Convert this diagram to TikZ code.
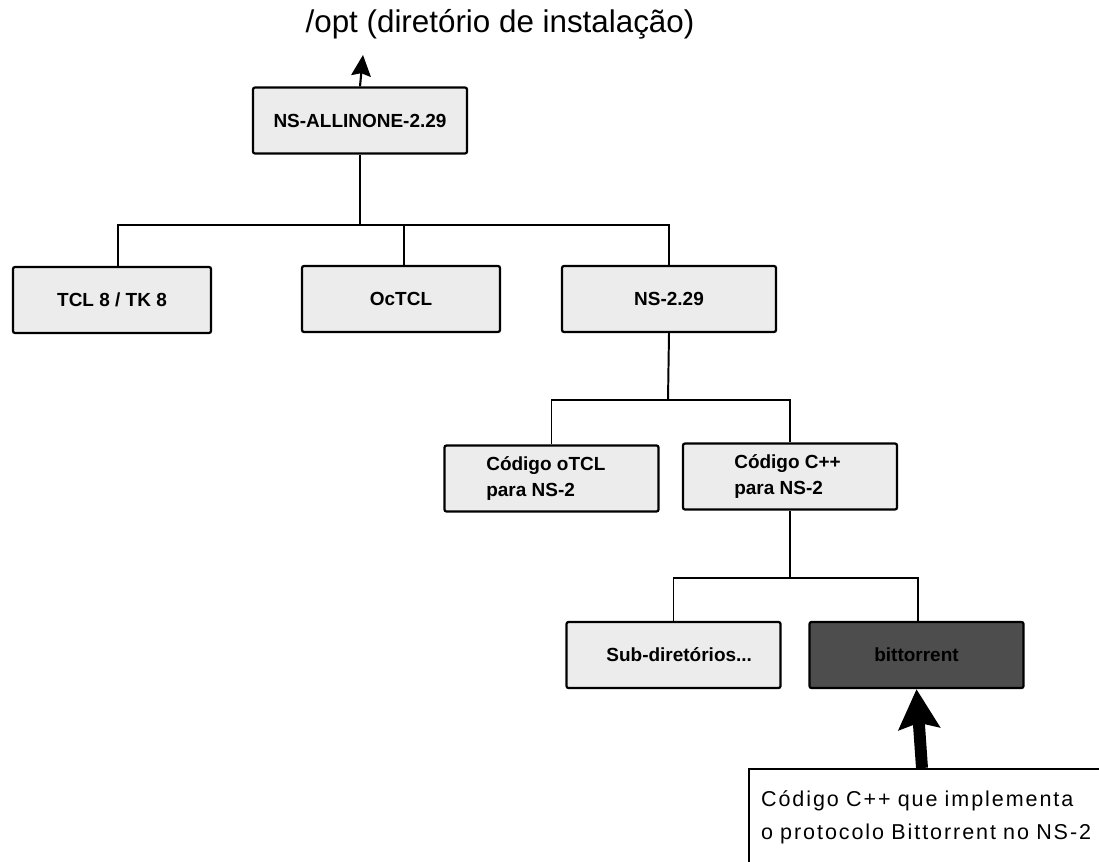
\documentclass[tikz,border=0pt]{standalone}
\usepackage{fontspec}
\setmainfont{Liberation Sans}
\usepackage{tikz}
\usetikzlibrary{arrows.meta,positioning}
\definecolor{boxgray}{HTML}{ECECEC}
\definecolor{darkbox}{HTML}{4D4D4D}

\begin{document}
\begin{tikzpicture}[x=0.025cm, y=-0.025cm,
    dirbox/.style={rectangle, draw=black, fill=boxgray, line width=1.6pt, rounded corners=1.5pt, minimum width=5.35cm, minimum height=1.65cm, inner sep=0pt, font=\fontsize{13.5}{19}\selectfont\bfseries},
    smallbox/.style={dirbox, minimum width=4.95cm},
    selbox/.style={dirbox, fill=darkbox},
    notebox/.style={rectangle, draw=black, fill=white, line width=1.5pt, anchor=north west, align=left, text width=8.6cm, inner xsep=0.3cm, inner ysep=0.55cm, font=\fontsize{15.3}{23.5}\selectfont\addfontfeatures{LetterSpace=9}},
    link/.style={draw=black, line width=1.4pt},
    uparrow/.style={line width=1.5pt, -{Stealth[length=15pt, width=14pt, inset=2pt]}},
    bigarrow/.style={line width=8.5pt, -{Stealth[length=28pt, width=29pt, inset=4pt]}}
]
\clip (0,0) rectangle (1099,862);
\fill[white] (0,0) rectangle (1099,862);

% Installation directory
\node[anchor=base, font=\fontsize{22.3}{26}\selectfont] (opt) at (500,32) {/opt (diretório de instalação)};
\coordinate (optarrow) at (363,55);

% Top level
\node[dirbox] (allinone) at (360,120.5) {NS-ALLINONE-2.29};

% First level
\node[smallbox] (tcl) at (112,300) {TCL 8 / TK 8};
\node[smallbox] (octcl) at (401,299) {OcTCL};
\node[dirbox] (ns) at (669,299) {NS-2.29};

% Second level
\node[dirbox, align=left] (otcl) at (551.5,478.5) {Código oTCL\\para NS-2\hspace*{2.2em}};
\node[dirbox, align=left] (cpp) at (790,476.5) {\hspace*{0.4em}Código C++\\\hspace*{0.4em}para NS-2\hspace*{1.6em}};

% Third level
\node[dirbox] (subdirs) at (673.5,655) {\hspace*{0.6em}Sub-diretórios...};
\node[selbox] (bittorrent) at (916.5,655) {bittorrent};

% Note
\node[notebox] (note) at (748,768) {Código C++ que implementa\\o protocolo Bittorrent no NS-2};
\coordinate (notetip) at (922,768);

% Junctions
\coordinate (j1) at (360,225);
\coordinate (j2) at (668,400);
\coordinate (j3) at (790,578);

% Tree connectors
\draw[uparrow] (allinone.north) -- (optarrow);
\draw[link] (allinone.south) -- (j1);
\draw[link] (j1) -| ([xshift=0.15cm]tcl.north);
\draw[link] (j1) -| ([xshift=0.08cm]octcl.north);
\draw[link] (j1) -| (ns.north);
\draw[link] (ns.south) -- (j2);
\draw[link] (j2) -| (otcl.north);
\draw[link] (j2) -| (cpp.north);
\draw[link] (cpp.south) -- (j3);
\draw[link] (j3) -| (subdirs.north);
\draw[link] (j3) -| ([xshift=0.04cm]bittorrent.north);

% Pointer to bittorrent
\draw[bigarrow] (notetip) -- (bittorrent.south);

\end{tikzpicture}
\end{document}
